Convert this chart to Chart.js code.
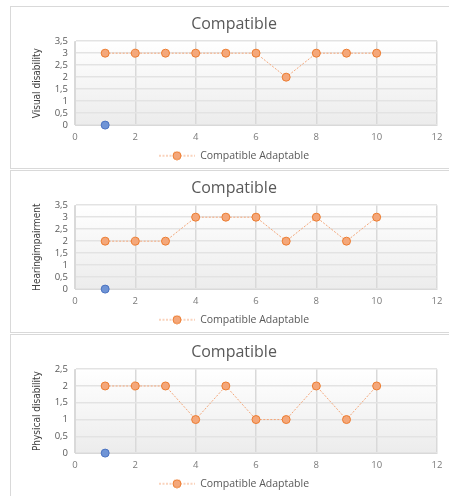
<!DOCTYPE html>
<html>
<head>
<meta charset="utf-8">
<script src="https://cdn.jsdelivr.net/npm/chart.js@4"></script>
<style>
  html, body { margin: 0; padding: 0; background: #fff; }
  body { width: 449px; height: 496px; position: relative; overflow: hidden; }
  .panel { position: absolute; left: 10px; width: 445px; border: 1px solid #d9d9d9; box-sizing: border-box; background: #fff; }
  .panel canvas { display: block; }
</style>
</head>
<body>
<div class="panel" style="top:6px;height:163px"><canvas id="chart1"></canvas></div>
<div class="panel" style="top:170px;height:163px"><canvas id="chart2"></canvas></div>
<div class="panel" style="top:334px;height:170px"><canvas id="chart3"></canvas></div>
<script>
var xValues = [1, 2, 3, 4, 5, 6, 7, 8, 9, 10]
var visualValues = [3, 3, 3, 3, 3, 3, 2, 3, 3, 3]
var hearingValues = [2, 2, 2, 3, 3, 3, 2, 3, 2, 3]
var physicalValues = [2, 2, 2, 1, 2, 1, 1, 2, 1, 2]
var blueX = [1]
var blueY = [0]
var chartTitle = 'Compatible'
var seriesName = 'Compatible Adaptable'

var orangeLine = '#f4a77a'
var orangeFill = '#f4a77a'
var orangeEdge = '#ed7d31'

// legend marker: dashed line with a circle in the middle
var legendIcon = document.createElement('canvas')
legendIcon.width = 36
legendIcon.height = 10
var lctx = legendIcon.getContext('2d')
lctx.strokeStyle = orangeLine
lctx.lineWidth = 1
lctx.setLineDash([2, 1.5])
lctx.beginPath()
lctx.moveTo(0, 5)
lctx.lineTo(36, 5)
lctx.stroke()
lctx.setLineDash([])
lctx.fillStyle = orangeFill
lctx.strokeStyle = orangeEdge
lctx.beginPath()
lctx.arc(18, 5, 4, 0, Math.PI * 2)
lctx.fill()
lctx.stroke()

var plotBackground = {
    id: 'plotBackground',
    beforeDraw: function (chart) {
        var a = chart.chartArea
        var ctx = chart.ctx
        var g = ctx.createLinearGradient(0, a.top, 0, a.bottom)
        g.addColorStop(0, '#ffffff')
        g.addColorStop(1, '#ececec')
        ctx.save()
        ctx.fillStyle = g
        ctx.fillRect(a.left, a.top, a.right - a.left, a.bottom - a.top)
        ctx.restore()
    }
}

function toPoints(xs, ys) {
    return xs.map(function (x, i) { return { x: x, y: ys[i] } })
}

function commaTick(value) {
    return String(value).replace('.', ',')
}

function makeChart(idSelectorName, yTitle, yValues, yMax, canvasHeight) {
    var canvas = document.getElementById(idSelectorName)
    canvas.width = 443
    canvas.height = canvasHeight
    canvas.style.width = '443px'
    canvas.style.height = canvasHeight + 'px'

    new Chart(canvas.getContext('2d'), {
        type: 'line',
        data: {
            datasets: [
                {
                    label: seriesName,
                    data: toPoints(xValues, yValues),
                    borderColor: orangeLine,
                    borderWidth: 1,
                    borderDash: [2, 1.5],
                    backgroundColor: orangeFill,
                    pointBackgroundColor: orangeFill,
                    pointBorderColor: orangeEdge,
                    pointBorderWidth: 1,
                    pointRadius: 4,
                    tension: 0,
                    clip: false
                },
                {
                    label: 'blue',
                    data: toPoints(blueX, blueY),
                    showLine: false,
                    backgroundColor: '#6f94d6',
                    borderColor: '#4a72c0',
                    pointRadius: 4,
                    pointBorderWidth: 1,
                    clip: false
                }
            ]
        },
        options: {
            responsive: false,
            animation: false,
            devicePixelRatio: 1,
            layout: { padding: { left: 20, right: 17, top: 4, bottom: 0 } },
            plugins: {
                title: {
                    display: true,
                    text: chartTitle,
                    color: '#595959',
                    font: { family: 'Open Sans', size: 16, weight: 'normal' },
                    padding: { top: 4, bottom: 7 }
                },
                legend: {
                    position: 'bottom',
                    labels: {
                        usePointStyle: true,
                        pointStyleWidth: 36,
                        boxHeight: 10,
                        generateLabels: function (chart) {
                            return [{
                                text: seriesName,
                                pointStyle: legendIcon,
                                fontColor: '#595959',
                                datasetIndex: 0
                            }]
                        },
                        color: '#595959',
                        font: { family: 'Open Sans', size: 10.5 },
                        padding: 2
                    }
                },
                tooltip: { enabled: false }
            },
            scales: {
                x: {
                    type: 'linear',
                    min: 0,
                    max: 12,
                    ticks: { stepSize: 2, color: '#7a7a7a', padding: 6, font: { family: 'Open Sans', size: 9.5 } },
                    grid: { color: '#d9d9d9', lineWidth: 1.5, drawTicks: false },
                    border: { color: '#d9d9d9' }
                },
                y: {
                    min: 0,
                    max: yMax,
                    ticks: {
                        stepSize: 0.5,
                        autoSkip: false,
                        padding: 7,
                        color: '#595959',
                        font: { family: 'Open Sans', size: 9.5 },
                        callback: commaTick
                    },
                    grid: { color: '#e3e3e3', lineWidth: 1.5, drawTicks: false },
                    border: { color: '#d9d9d9' },
                    title: {
                        display: true,
                        text: yTitle,
                        color: '#404040',
                        font: { family: 'DejaVu Sans Condensed', size: 10 },
                        padding: 0
                    },
                    afterFit: function (scale) { scale.width = 44 }
                }
            }
        },
        plugins: [plotBackground]
    })
}

makeChart('chart1', 'Visual disability', visualValues, 3.5, 164)
makeChart('chart2', 'Hearingimpairment', hearingValues, 3.5, 164)
makeChart('chart3', 'Physical disability', physicalValues, 2.5, 164)
</script>
</body>
</html>
